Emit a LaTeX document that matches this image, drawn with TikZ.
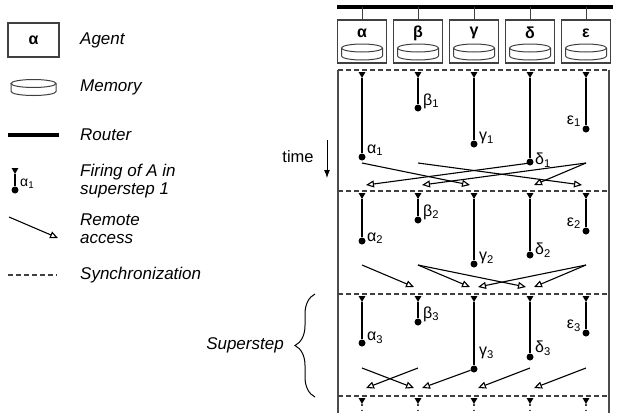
\documentclass[tikz,border=0pt]{standalone}
\usepackage{fontspec}
\setmainfont{Liberation Sans}
\usetikzlibrary{arrows.meta,shapes.geometric,decorations.pathreplacing}
\tikzset{>=latex}
\tikzstyle{agent}=[rectangle,draw=black!75,line width=1.2pt,minimum width=49pt,minimum height=43pt,inner sep=0pt]
\tikzstyle{glyph}=[font=\fontsize{16}{18}\selectfont\bfseries,inner sep=0pt]
\tikzstyle{disk}=[draw=black!75,line width=1pt]
\tikzstyle{router}=[line width=4pt]
\tikzstyle{link}=[line width=1pt,black!75]
\tikzstyle{frame}=[line width=1.2pt,black!70]
\tikzstyle{trig}=[regular polygon,regular polygon sides=3,shape border rotate=180,fill=black,inner sep=0pt,minimum size=8pt]
\tikzstyle{event}=[circle,fill=black,inner sep=0pt,minimum size=7pt]
\tikzstyle{firing}=[line width=1.2pt]
\tikzstyle{remote}=[line width=1.1pt,-{Triangle[open,length=8pt,width=7pt]}]
\tikzstyle{sync}=[line width=1.2pt,black!75,dash pattern=on 4.5pt off 3.5pt]
\tikzstyle{tail}=[line width=1.2pt,black!75,dash pattern=on 1.2pt off 4pt]
\tikzstyle{lbl}=[font=\fontsize{16}{18}\selectfont,inner sep=0pt,anchor=west]
\tikzstyle{legend}=[font=\fontsize{17}{18}\selectfont\itshape,inner sep=0pt,anchor=west,align=left]
\newcommand{\memdisk}[3]{%
  \draw[disk] (#1,#2) ellipse [x radius=#3pt,y radius=4pt];
  \draw[disk] ({#1-#3},#2) -- ({#1-#3},#2+8) arc[start angle=180,end angle=360,x radius=#3pt,y radius=4pt] -- ({#1+#3},#2);
}

\begin{document}
\begin{tikzpicture}[x=1pt,y=-1pt,inner sep=1pt]
	\useasboundingbox (0,0) rectangle (618,413);

	% legend
	\node[agent,minimum width=51pt,minimum height=34pt] (legagent) at (33.5,40) {};
	\node[glyph] (legalpha) at (33.5,40) {α};
	\node[legend] (txtagent) at (80,40) {Agent};
	\memdisk{33.5}{83.5}{22.5}
	\node[legend] (txtmem) at (80,87) {Memory};
	\coordinate (legrouter1) at (8,135);
	\coordinate (legrouter2) at (59,135);
	\draw[router] (legrouter1) -- (legrouter2);
	\node[legend] (txtrouter) at (80,135) {Router};
	\node[trig] (legtrig) at (15,170) {};
	\node[event] (legdot) at (15,190) {};
	\draw[firing] (legtrig) -- (legdot);
	\node[lbl,font=\fontsize{14}{16}\selectfont] (legindex) at (20,184) {α\textsubscript{1}};
	\node[legend] (txtfire) at (80,181) {Firing of A in\\superstep 1};
	\coordinate (legsrc) at (9,217);
	\coordinate (legdst) at (58,238);
	\draw[remote] (legsrc) -- (legdst);
	\node[legend] (txtremote) at (80,229) {Remote\\access};
	\coordinate (legsync1) at (8,275);
	\coordinate (legsync2) at (57,275);
	\draw[sync] (legsync1) -- (legsync2);
	\node[legend] (txtsync) at (80,275) {Synchronization};

	% router, agents, supersteps frame
	\coordinate (routerL) at (337,7);
	\coordinate (routerR) at (613,7);
	\draw[router] (routerL) -- (routerR);

	\coordinate (fTL) at (338,70);
	\coordinate (fTR) at (609,70);
	\coordinate (fBL) at (338,413);
	\coordinate (fBR) at (609,413);
	\draw[frame] (fTL) -- (fBL);
	\draw[frame] (fTR) -- (fBR);
	\draw[sync] (fTL) -- (fTR);
	\coordinate (sync2L) at (338,191);
	\coordinate (sync2R) at (609,191);
	\coordinate (sync3L) at (338,294);
	\coordinate (sync3R) at (609,294);
	\coordinate (sync4L) at (338,396);
	\coordinate (sync4R) at (609,396);
	\draw[sync] (sync2L) -- (sync2R);
	\draw[sync] (sync3L) -- (sync3R);
	\draw[sync] (sync4L) -- (sync4R);

	\foreach \x/\g [count=\i] in {362/α,418/β,474/γ,530/δ,586/ε} {
		\node[agent] (box\i) at (\x,41.5) {};
		\node[glyph] (greek\i) at (\x,33) {\g};
		\coordinate (rt\i) at (\x,7);
		\draw[link] (rt\i) -- (box\i);
		\memdisk{\x}{48}{20.5}
		\node[trig] (s1\i) at (\x,74) {};
		\node[trig] (s2\i) at (\x,195) {};
		\node[trig] (s3\i) at (\x,298) {};
		\node[trig] (s4\i) at (\x,400) {};
		\coordinate (bot\i) at (\x,413);
		\draw[tail] (s4\i) -- (bot\i);
	}

	% superstep 1
	\node[event] (a1) at (362,157) {};
	\node[event] (b1) at (418,108) {};
	\node[event] (g1) at (474,144) {};
	\node[event] (d1) at (530,162) {};
	\node[event] (e1) at (586,129) {};
	\draw[firing] (s11) -- (a1);
	\draw[firing] (s12) -- (b1);
	\draw[firing] (s13) -- (g1);
	\draw[firing] (s14) -- (d1);
	\draw[firing] (s15) -- (e1);
	\node[lbl] (la1) at (367,150) {α\textsubscript{1}};
	\node[lbl] (lb1) at (423,101) {β\textsubscript{1}};
	\node[lbl] (lg1) at (479,138) {γ\textsubscript{1}};
	\node[lbl] (ld1) at (535,160) {δ\textsubscript{1}};
	\node[lbl,anchor=east] (le1) at (581,121) {ε\textsubscript{1}};

	\coordinate (a1o) at (362,163);
	\coordinate (b1o) at (418,163);
	\coordinate (d1o) at (530,163);
	\coordinate (e1o) at (586,163);
	\coordinate (a1i) at (366,185);
	\coordinate (b1i) at (422,185);
	\coordinate (g1i) at (470,185);
	\coordinate (d1i) at (534,185);
	\coordinate (e1i) at (582,185);
	\draw[remote] (a1o) -- (g1i);
	\draw[remote] (b1o) -- (e1i);
	\draw[remote] (d1o) -- (a1i);
	\draw[remote] (e1o) -- (b1i);
	\draw[remote] (e1o) -- (d1i);

	% superstep 2
	\node[event] (a2) at (362,241) {};
	\node[event] (b2) at (418,220) {};
	\node[event] (g2) at (474,264) {};
	\node[event] (d2) at (530,255) {};
	\node[event] (e2) at (586,231) {};
	\draw[firing] (s21) -- (a2);
	\draw[firing] (s22) -- (b2);
	\draw[firing] (s23) -- (g2);
	\draw[firing] (s24) -- (d2);
	\draw[firing] (s25) -- (e2);
	\node[lbl] (la2) at (367,238) {α\textsubscript{2}};
	\node[lbl] (lb2) at (423,212) {β\textsubscript{2}};
	\node[lbl] (lg2) at (479,258) {γ\textsubscript{2}};
	\node[lbl] (ld2) at (535,250) {δ\textsubscript{2}};
	\node[lbl,anchor=east] (le2) at (581,223) {ε\textsubscript{2}};

	\coordinate (a2o) at (362,265);
	\coordinate (b2o) at (418,265);
	\coordinate (e2o) at (586,265);
	\coordinate (b2i) at (414,287);
	\coordinate (g2l) at (470,287);
	\coordinate (g2r) at (478,287);
	\coordinate (d2l) at (526,287);
	\coordinate (d2r) at (534,287);
	\draw[remote] (a2o) -- (b2i);
	\draw[remote] (b2o) -- (g2l);
	\draw[remote] (b2o) -- (d2l);
	\draw[remote] (e2o) -- (g2r);
	\draw[remote] (e2o) -- (d2r);

	% superstep 3
	\node[event] (a3) at (362,343) {};
	\node[event] (b3) at (418,322) {};
	\node[event] (g3) at (474,369) {};
	\node[event] (d3) at (530,357) {};
	\node[event] (e3) at (586,333) {};
	\draw[firing] (s31) -- (a3);
	\draw[firing] (s32) -- (b3);
	\draw[firing] (s33) -- (g3);
	\draw[firing] (s34) -- (d3);
	\draw[firing] (s35) -- (e3);
	\node[lbl] (la3) at (367,338) {α\textsubscript{3}};
	\node[lbl] (lb3) at (423,314) {β\textsubscript{3}};
	\node[lbl] (lg3) at (479,353) {γ\textsubscript{3}};
	\node[lbl] (ld3) at (535,348) {δ\textsubscript{3}};
	\node[lbl,anchor=east] (le3) at (581,326) {ε\textsubscript{3}};

	\coordinate (a3o) at (362,368);
	\coordinate (b3o) at (418,368);
	\coordinate (d3o) at (530,368);
	\coordinate (e3o) at (586,368);
	\coordinate (a3i) at (366,388);
	\coordinate (b3l) at (414,388);
	\coordinate (b3r) at (422,388);
	\coordinate (g3i) at (478,388);
	\coordinate (d3i) at (534,388);
	\draw[remote] (a3o) -- (b3l);
	\draw[remote] (b3o) -- (a3i);
	\draw[remote] (g3) -- (b3r);
	\draw[remote] (d3o) -- (g3i);
	\draw[remote] (e3o) -- (d3i);

	% time and superstep brace
	\node[font=\fontsize{16.5}{18}\selectfont,inner sep=0pt] (time) at (298,157) {time};
	\coordinate (t0) at (327,140);
	\coordinate (t1) at (327,178);
	\draw[line width=1pt,-{Latex[length=8pt,width=6pt]}] (t0) -- (t1);

	\coordinate (brtop) at (315,294);
	\coordinate (brbot) at (315,397);
	\draw[line width=1pt,decorate,decoration={brace,amplitude=20pt}] (brbot) -- (brtop);
	\node[font=\fontsize{17}{18}\selectfont\itshape,inner sep=0pt] (superstep) at (245,345) {Superstep};
\end{tikzpicture}
\end{document}
